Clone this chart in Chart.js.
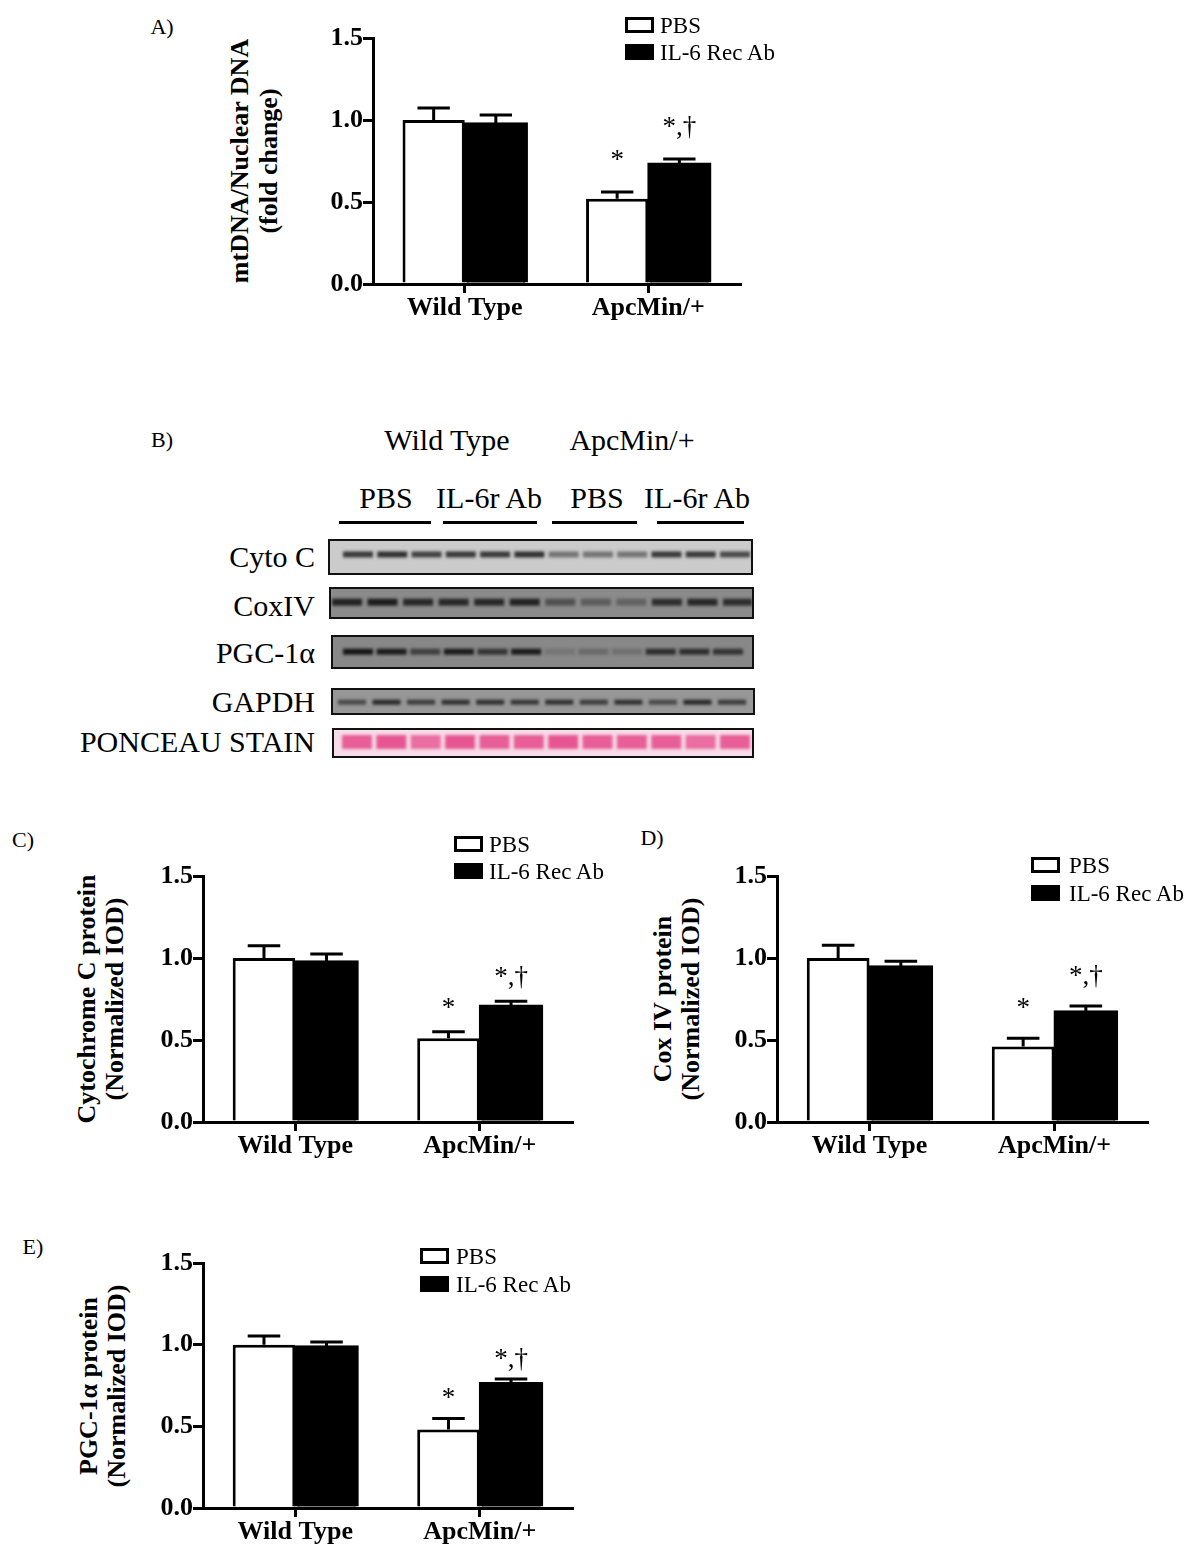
<!DOCTYPE html>
<html lang="en">
<head>
    <meta charset="UTF-8">
    <script src="https://cdn.jsdelivr.net/npm/chart.js"></script>
    <title>Mitochondrial content figure</title>
    <style>
        body { margin: 0; background: #fff; }
        #fig { position: relative; width: 1200px; height: 1561px; background: #fff; overflow: hidden;
               font-family: "Liberation Serif", "Times New Roman", serif; color: #000; }
        #fig canvas { position: absolute; }
        .t { position: absolute; white-space: nowrap; transform: translate(-50%, -50%); line-height: 1; }
        .lbl { position: absolute; white-space: nowrap; font-size: 30px; line-height: 1; transform: translateY(-50%); text-align: right; }
        .ytitle { position: absolute; white-space: nowrap; font-weight: bold; font-size: 26px; line-height: 28px;
                  text-align: center; transform: translate(-50%, -50%) rotate(-90deg); }
        .leg { position: absolute; font-size: 23px; line-height: 1; white-space: nowrap; }
        .leg .box { position: absolute; width: 29px; height: 16px; box-sizing: border-box; border: 3px solid #000; }
        .leg span { position: absolute; transform: translateY(-50%); }
        .uline { position: absolute; height: 3px; background: #000; }
        .strip { position: absolute; box-sizing: border-box; border: 2px solid #111; overflow: hidden; }
        .strip canvas { position: absolute; left: 0; top: 0; filter: blur(1.4px); }
    </style>
</head>
<body>
<div id="fig">
    <!-- panel labels -->
    <div class="t" style="left:162px;top:27px;font-size:22px">A)</div>
    <div class="t" style="left:162px;top:440px;font-size:22px">B)</div>
    <div class="t" style="left:23px;top:840px;font-size:22px">C)</div>
    <div class="t" style="left:652px;top:838px;font-size:22px">D)</div>
    <div class="t" style="left:33px;top:1247px;font-size:22px">E)</div>

    <!-- y axis titles -->
    <div class="ytitle" style="left:254px;top:161px;line-height:29px">mtDNA/Nuclear DNA<br>(fold change)</div>
    <div class="ytitle" style="left:101px;top:999px">Cytochrome C protein<br>(Normalized IOD)</div>
    <div class="ytitle" style="left:677px;top:999px">Cox IV protein<br>(Normalized IOD)</div>
    <div class="ytitle" style="left:103px;top:1386px">PGC-1α protein<br>(Normalized IOD)</div>

    <canvas id="chartA" width="460" height="320" style="left:290px;top:18px"></canvas>
    <canvas id="chartC" width="462" height="320" style="left:120px;top:856px"></canvas>
    <canvas id="chartD" width="463" height="320" style="left:694px;top:856px"></canvas>
    <canvas id="chartE" width="462" height="318" style="left:120px;top:1243px"></canvas>

    <!-- blot panel headers -->
    <div class="t" style="left:447px;top:440px;font-size:30px">Wild Type</div>
    <div class="t" style="left:632px;top:440px;font-size:30px">ApcMin/+</div>
    <div class="t" style="left:386px;top:498px;font-size:30px">PBS</div>
    <div class="t" style="left:489px;top:498px;font-size:30px">IL-6r Ab</div>
    <div class="t" style="left:597px;top:498px;font-size:30px">PBS</div>
    <div class="t" style="left:697px;top:498px;font-size:30px">IL-6r Ab</div>
    <div class="uline" style="left:339px;top:521px;width:92px"></div>
    <div class="uline" style="left:443px;top:521px;width:94px"></div>
    <div class="uline" style="left:552px;top:521px;width:85px"></div>
    <div class="uline" style="left:657px;top:521px;width:87px"></div>
</div>

<script>
    // bar chart data
    var categories = ['Wild Type', 'ApcMin/+'];
    var seriesNames = ['PBS', 'IL-6 Rec Ab'];
    var yTicks = [0, 0.5, 1.0, 1.5];

    var mtdnaPBS = [1.00, 0.52];
    var mtdnaPBSErr = [0.073, 0.041];
    var mtdnaAb = [0.98, 0.735];
    var mtdnaAbErr = [0.050, 0.027];

    var cytoPBS = [1.00, 0.51];
    var cytoPBSErr = [0.075, 0.040];
    var cytoAb = [0.98, 0.71];
    var cytoAbErr = [0.045, 0.027];

    var coxPBS = [1.00, 0.46];
    var coxPBSErr = [0.077, 0.050];
    var coxAb = [0.95, 0.675];
    var coxAbErr = [0.030, 0.033];

    var pgcPBS = [1.00, 0.48];
    var pgcPBSErr = [0.053, 0.068];
    var pgcAb = [0.99, 0.765];
    var pgcAbErr = [0.027, 0.025];

    var marksPBS = ['', '*'];
    var marksAb = ['', '*,\u2020'];

    // western blot band intensities (0 = no band, 1 = darkest), 12 lanes
    var lanes = [1, 2, 3, 4, 5, 6, 7, 8, 9, 10, 11, 12];
    var blotRows = ['Cyto C', 'CoxIV', 'PGC-1\u03b1', 'GAPDH', 'PONCEAU STAIN'];
    var cytoBands = [0.85, 0.9, 0.8, 0.85, 0.85, 0.9, 0.5, 0.5, 0.5, 0.85, 0.85, 0.75];
    var coxBands = [0.9, 0.95, 0.85, 0.85, 0.85, 0.9, 0.5, 0.4, 0.35, 0.8, 0.85, 0.8];
    var pgcBands = [0.95, 0.9, 0.6, 0.9, 0.7, 0.9, 0.15, 0.25, 0.2, 0.75, 0.75, 0.7];
    var gapdhBands = [0.6, 0.85, 0.7, 0.8, 0.8, 0.75, 0.8, 0.7, 0.8, 0.6, 0.85, 0.7];
    var ponceauBands = [0.8, 0.85, 0.7, 0.85, 0.8, 0.8, 0.85, 0.8, 0.8, 0.8, 0.7, 0.8];

    var serif = '"Liberation Serif", "Times New Roman", serif';
    Chart.defaults.font.family = serif;
    Chart.defaults.color = '#000';

    // upper error bars plus significance marks
    var errorBars = {
        id: 'errorBars',
        afterDatasetsDraw: function(chart, args, opts) {
            var ctx = chart.ctx;
            var yScale = chart.scales.y;
            ctx.save();
            ctx.strokeStyle = '#000';
            ctx.fillStyle = '#000';
            ctx.lineWidth = 3;
            ctx.font = '27px ' + serif;
            ctx.textAlign = 'center';
            ctx.textBaseline = 'alphabetic';
            chart.data.datasets.forEach(function(ds, di) {
                chart.getDatasetMeta(di).data.forEach(function(bar, i) {
                    var top = yScale.getPixelForValue(ds.data[i] + ds.errors[i]);
                    var half = bar.width * 0.26;
                    ctx.beginPath();
                    ctx.moveTo(bar.x, bar.y);
                    ctx.lineTo(bar.x, top);
                    ctx.moveTo(bar.x - half, top);
                    ctx.lineTo(bar.x + half, top);
                    ctx.stroke();
                    if (ds.marks[i]) {
                        ctx.fillText(ds.marks[i], bar.x, top - opts.gap);
                    }
                });
            });
            ctx.restore();
        }
    };

    function makeBarChart(id, pbs, pbsErr, ab, abErr, gap) {
        var ctx = document.getElementById(id).getContext('2d');
        var xHeight = id === 'chartE' ? 53 : 54;
        return new Chart(ctx, {
            type: 'bar',
            data: {
                labels: categories,
                datasets: [{
                    label: seriesNames[0],
                    data: pbs,
                    errors: pbsErr,
                    marks: marksPBS,
                    backgroundColor: '#fff',
                    borderColor: '#000',
                    borderWidth: 3,
                    inflateAmount: 0,
                    categoryPercentage: 0.678,
                    barPercentage: 1.0
                }, {
                    label: seriesNames[1],
                    data: ab,
                    errors: abErr,
                    marks: marksAb,
                    backgroundColor: '#000',
                    borderColor: '#000',
                    borderWidth: 3,
                    inflateAmount: 1,
                    categoryPercentage: 0.678,
                    barPercentage: 1.0
                }]
            },
            options: {
                responsive: false,
                animation: false,
                events: [],
                layout: { padding: { top: 20, right: 10, left: 0, bottom: 0 } },
                plugins: {
                    legend: { display: false },
                    tooltip: { enabled: false },
                    errorBars: { gap: gap }
                },
                scales: {
                    x: {
                        grid: { display: true, drawOnChartArea: false, drawTicks: true, tickLength: 9, offset: false, color: '#000', lineWidth: 3 },
                        border: { display: true, color: '#000', width: 3 },
                        ticks: { font: { size: 26, weight: 'bold' }, padding: 0, color: '#000' },
                        afterFit: function(scale) { scale.height = xHeight; }
                    },
                    y: {
                        min: 0,
                        max: 1.5,
                        afterBuildTicks: function(scale) {
                            scale.ticks = yTicks.map(function(v) { return { value: v }; });
                        },
                        grid: { display: true, drawOnChartArea: false, drawTicks: true, tickLength: 10, color: '#000', lineWidth: 3 },
                        border: { display: true, color: '#000', width: 3 },
                        ticks: {
                            font: { size: 26, weight: 'bold' },
                            padding: 0,
                            color: '#000',
                            callback: function(v) { return Number(v).toFixed(1); }
                        },
                        afterFit: function(scale) { scale.width = 83; }
                    }
                }
            },
            plugins: [errorBars]
        });
    }

    makeBarChart('chartA', mtdnaPBS, mtdnaPBSErr, mtdnaAb, mtdnaAbErr, 24);
    makeBarChart('chartC', cytoPBS, cytoPBSErr, cytoAb, cytoAbErr, 16);
    makeBarChart('chartD', coxPBS, coxPBSErr, coxAb, coxAbErr, 22);
    makeBarChart('chartE', pgcPBS, pgcPBSErr, pgcAb, pgcAbErr, 12);

    // legends
    function addLegend(boxLeft, textLeft, rowY) {
        var fig = document.getElementById('fig');
        seriesNames.forEach(function(name, i) {
            var box = document.createElement('div');
            box.className = 'leg';
            box.innerHTML = '<div class="box" style="left:' + boxLeft + 'px;top:' + (rowY[i] - 8) + 'px;background:' +
                (i === 0 ? '#fff' : '#000') + '"></div><span style="left:' + textLeft + 'px;top:' + rowY[i] + 'px">' + name + '</span>';
            fig.appendChild(box);
        });
    }
    addLegend(625, 660, [25, 52]);
    addLegend(454, 489, [844, 871]);
    addLegend(1031, 1069, [865, 893]);
    addLegend(420, 456, [1256, 1284]);

    // western blot strips, one small scatter chart per strip
    var blotStyle = [
        { bands: cytoBands, left: 328, top: 539, w: 425, h: 36, bg: '#cbcbcb', ink: '30,30,30', pos: 0.42, thick: 6, half: 15, first: 30, last: 407, labelY: 557 },
        { bands: coxBands, left: 329, top: 587, w: 425, h: 32, bg: '#8b8b8b', ink: '22,22,22', pos: 0.47, thick: 7, half: 15, first: 18, last: 409, labelY: 606 },
        { bands: pgcBands, left: 331, top: 635, w: 423, h: 34, bg: '#888888', ink: '15,15,15', pos: 0.49, thick: 6, half: 15, first: 27, last: 397, labelY: 653 },
        { bands: gapdhBands, left: 331, top: 688, w: 424, h: 27, bg: '#979797', ink: '22,22,22', pos: 0.53, thick: 5, half: 14, first: 21, last: 401, labelY: 702 },
        { bands: ponceauBands, left: 332, top: 728, w: 422, h: 30, bg: '#f7dde9', ink: '228,62,130', pos: 0.46, thick: 14, half: 15, first: 25, last: 403, labelY: 742 }
    ];

    var fig = document.getElementById('fig');
    blotStyle.forEach(function(s, r) {
        var lbl = document.createElement('div');
        lbl.className = 'lbl';
        lbl.style.right = (1200 - 315) + 'px';
        lbl.style.top = s.labelY + 'px';
        lbl.textContent = blotRows[r];
        fig.appendChild(lbl);

        var strip = document.createElement('div');
        strip.className = 'strip';
        strip.style.left = s.left + 'px';
        strip.style.top = s.top + 'px';
        strip.style.width = s.w + 'px';
        strip.style.height = s.h + 'px';
        strip.style.background = s.bg;
        var cv = document.createElement('canvas');
        cv.width = s.w - 4;
        cv.height = s.h - 4;
        strip.appendChild(cv);
        fig.appendChild(strip);

        var step = (s.last - s.first) / (lanes.length - 1);
        new Chart(cv.getContext('2d'), {
            type: 'scatter',
            data: {
                datasets: [{
                    data: lanes.map(function(l) { return { x: l, y: 1 - s.pos }; }),
                    pointStyle: 'line',
                    pointRadius: s.half,
                    borderWidth: s.thick,
                    pointBorderWidth: s.thick,
                    pointBorderColor: s.bands.map(function(v) { return 'rgba(' + s.ink + ',' + v + ')'; }),
                    clip: false
                }]
            },
            options: {
                responsive: false,
                animation: false,
                events: [],
                layout: { padding: 0, autoPadding: false },
                plugins: { legend: { display: false }, tooltip: { enabled: false } },
                scales: {
                    x: { type: 'linear', display: false, min: 1 - (s.first - 2) / step, max: 12 + (s.w - 2 - s.last) / step },
                    y: { display: false, min: 0, max: 1 }
                }
            }
        });
    });
</script>
</body>
</html>
